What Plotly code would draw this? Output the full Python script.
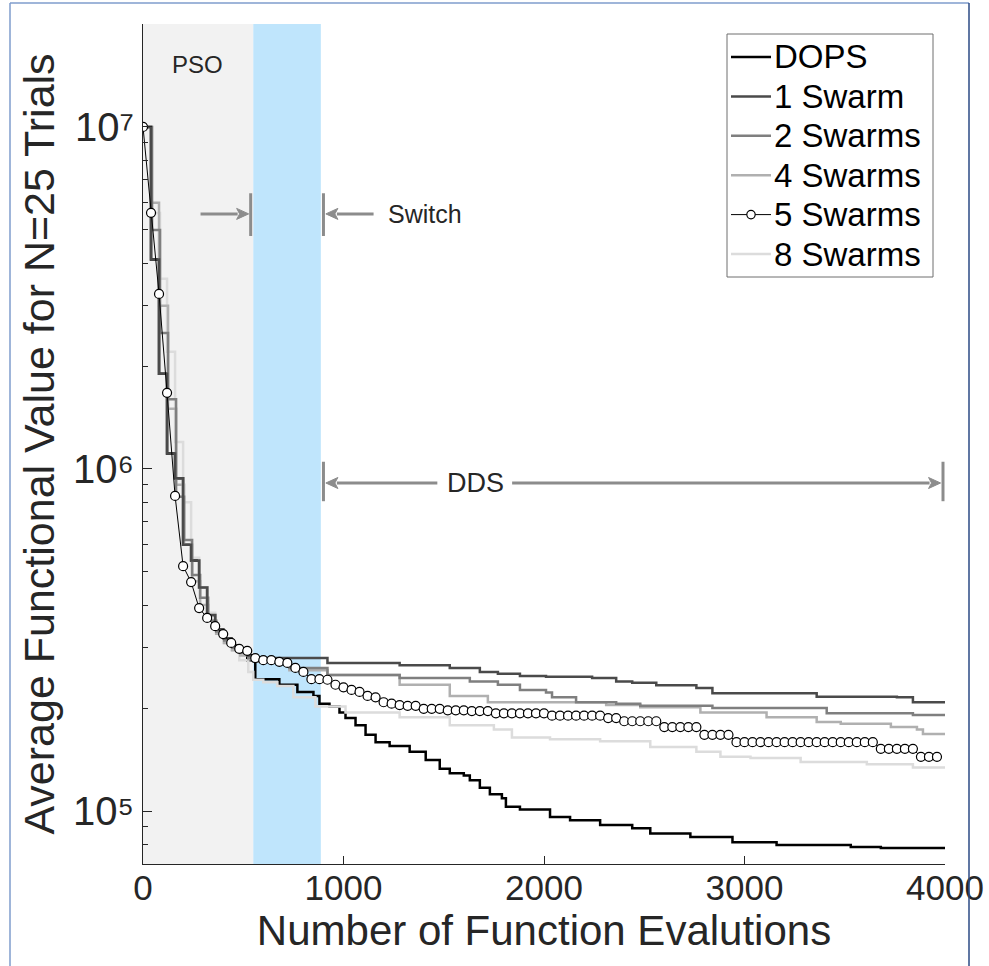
import math
import plotly.graph_objects as go

# ---------------- data ----------------
FIVE_X = list(range(0, 4000, 40))
FIVE_V = [
    1.0e7, 5.61e6, 3.25e6, 1.67e6, 8.34e5, 5.20e5, 4.67e5, 3.92e5, 3.67e5, 3.47e5,
    3.29e5, 3.10e5, 2.98e5, 2.94e5, 2.80e5, 2.76e5, 2.76e5, 2.73e5, 2.71e5, 2.62e5,
    2.55e5, 2.43e5, 2.43e5, 2.42e5, 2.34e5, 2.30e5, 2.26e5, 2.23e5, 2.17e5, 2.15e5,
    2.08e5, 2.06e5, 2.04e5, 2.03e5, 2.03e5, 1.99e5, 1.99e5, 1.99e5, 1.97e5, 1.97e5,
    1.97e5, 1.96e5, 1.96e5, 1.96e5, 1.93e5, 1.93e5, 1.93e5, 1.93e5, 1.93e5, 1.93e5,
    1.93e5, 1.90e5, 1.90e5, 1.90e5, 1.90e5, 1.90e5, 1.90e5, 1.90e5, 1.87e5, 1.87e5,
    1.83e5, 1.83e5, 1.83e5, 1.83e5, 1.83e5, 1.76e5, 1.76e5, 1.76e5, 1.76e5, 1.76e5,
    1.67e5, 1.67e5, 1.67e5, 1.67e5, 1.59e5, 1.59e5, 1.59e5, 1.59e5, 1.59e5, 1.59e5,
    1.59e5, 1.59e5, 1.59e5, 1.59e5, 1.59e5, 1.59e5, 1.59e5, 1.59e5, 1.59e5, 1.59e5,
    1.59e5, 1.59e5, 1.52e5, 1.52e5, 1.52e5, 1.52e5, 1.52e5, 1.44e5, 1.44e5, 1.44e5,
]

DOPS_X = [0, 40, 80, 120, 160, 200, 240, 280, 320, 360, 400, 440, 480, 520, 560,
          680, 770, 850, 880, 930, 980, 1010, 1060, 1110, 1160, 1230, 1330, 1410,
          1480, 1530, 1600, 1630, 1680, 1730, 1790, 1810, 1880, 2030, 2130, 2280,
          2440, 2530, 2730, 2940, 3160, 3530, 3680, 4000]
DOPS_V = [1.0e7, 4.1e6, 1.9e6, 1.11e6, 9.4e5, 6.0e5, 5.4e5, 4.5e5, 3.74e5, 3.4e5,
          3.2e5, 3.05e5, 2.9e5, 2.76e5, 2.43e5, 2.34e5, 2.23e5, 2.17e5, 2.06e5,
          2.02e5, 1.94e5, 1.87e5, 1.78e5, 1.67e5, 1.59e5, 1.55e5, 1.49e5, 1.41e5,
          1.33e5, 1.29e5, 1.27e5, 1.23e5, 1.17e5, 1.12e5, 1.09e5, 1.03e5, 1.01e5,
          9.6e4, 9.4e4, 9.1e4, 8.9e4, 8.6e4, 8.4e4, 8.1e4, 7.96e4, 7.85e4, 7.8e4,
          7.78e4]

ONE_X = [0, 40, 80, 120, 160, 200, 240, 280, 320, 360, 400, 440, 480, 520, 550,
         920, 1280, 1530, 1680, 1770, 1880, 2010, 2240, 2360, 2440, 2560, 2760,
         2840, 3360, 3760, 3840, 4000]
ONE_V = [1.0e7, 4.1e6, 1.9e6, 1.11e6, 9.4e5, 6.0e5, 5.4e5, 4.5e5, 3.74e5, 3.4e5,
         3.2e5, 3.05e5, 2.95e5, 2.85e5, 2.80e5, 2.71e5, 2.67e5, 2.62e5, 2.55e5,
         2.52e5, 2.48e5, 2.47e5, 2.45e5, 2.39e5, 2.37e5, 2.33e5, 2.29e5, 2.21e5,
         2.16e5, 2.15e5, 2.08e5, 2.08e5]

TWO_X = [0, 45, 85, 125, 165, 205, 245, 285, 325, 365, 405, 445, 485, 525, 550,
         730, 920, 1280, 1630, 1770, 1880, 2010, 2040, 2160, 2360, 2480, 2840,
         3410, 3840, 4000]
TWO_V = [1.0e7, 5.0e6, 2.5e6, 1.6e6, 8.3e5, 6.2e5, 4.9e5, 4.2e5, 3.6e5, 3.35e5,
         3.15e5, 3.0e5, 2.9e5, 2.8e5, 2.76e5, 2.62e5, 2.50e5, 2.45e5, 2.39e5,
         2.34e5, 2.26e5, 2.22e5, 2.15e5, 2.08e5, 2.06e5, 2.03e5, 2.00e5, 1.93e5,
         1.91e5, 1.91e5]

FOUR_X = [0, 40, 80, 125, 165, 205, 245, 285, 325, 365, 405, 445, 485, 525, 550,
          730, 920, 1280, 1530, 1720, 2310, 2480, 2780, 3110, 3360, 3480, 3730,
          3860, 3890, 4000]
FOUR_V = [1.0e7, 6.0e6, 3.0e6, 1.5e6, 9.0e5, 6.0e5, 4.7e5, 4.0e5, 3.6e5, 3.3e5,
          3.1e5, 2.95e5, 2.85e5, 2.78e5, 2.73e5, 2.58e5, 2.50e5, 2.34e5, 2.17e5,
          2.08e5, 2.04e5, 2.01e5, 1.94e5, 1.88e5, 1.82e5, 1.80e5, 1.76e5, 1.73e5,
          1.68e5, 1.68e5]

EIGHT_X = [0, 45, 85, 120, 160, 200, 240, 280, 320, 360, 400, 440, 480, 525, 550,
           600, 670, 750, 860, 1010, 1280, 1530, 1750, 1840, 2030, 2280, 2530,
           2760, 2880, 3030, 3280, 3610, 3840, 4000]
EIGHT_V = [1.0e7, 5.6e6, 3.6e6, 2.2e6, 1.2e6, 8.0e5, 5.5e5, 4.5e5, 3.8e5, 3.4e5,
           3.1e5, 2.95e5, 2.76e5, 2.55e5, 2.42e5, 2.38e5, 2.32e5, 2.15e5, 2.02e5,
           1.94e5, 1.88e5, 1.78e5, 1.73e5, 1.64e5, 1.62e5, 1.60e5, 1.54e5, 1.49e5,
           1.44e5, 1.43e5, 1.39e5, 1.37e5, 1.34e5, 1.34e5]

SERIES_NAMES = ["DOPS", "1 Swarm", "2 Swarms", "4 Swarms", "5 Swarms", "8 Swarms"]
X_TICKS = [0, 1000, 2000, 3000, 4000]
Y_TICKS = [1e5, 1e6, 1e7]
Y_TICKTEXT = ["10\u2075", "10\u2076", "10\u2077"]
Y_MINOR = [8e4, 9e4, 2e5, 3e5, 4e5, 5e5, 6e5, 7e5, 8e5, 9e5,
           2e6, 3e6, 4e6, 5e6, 6e6, 7e6, 8e6, 9e6, 2e7]
X_RANGE = [0, 4000]
Y_RANGE = [7e4, 2e7]

PSO_END = 550
SWITCH_END = 887

FONT = "Liberation Sans, Arial, Helvetica, sans-serif"
TXT = "#262626"

# ---------------- styles ----------------
STYLE = {
    "DOPS": dict(color="#000000", width=2.5),
    "1 Swarm": dict(color="#4a4a4a", width=2.5),
    "2 Swarms": dict(color="#7f7f7f", width=2.5),
    "4 Swarms": dict(color="#b0b0b0", width=2.5),
    "5 Swarms": dict(color="#000000", width=1),
    "8 Swarms": dict(color="#dcdcdc", width=2.5),
}

# ---------------- figure ----------------
fig = go.Figure()

def step(x, y, name):
    fig.add_trace(go.Scatter(x=x, y=y, mode="lines", name=name, line_shape="hv",
                             line=STYLE[name], showlegend=False))

step(DOPS_X, DOPS_V, "DOPS")
step(EIGHT_X, EIGHT_V, "8 Swarms")
step(FOUR_X, FOUR_V, "4 Swarms")
step(TWO_X, TWO_V, "2 Swarms")
step(ONE_X, ONE_V, "1 Swarm")
fig.add_trace(go.Scatter(x=FIVE_X, y=FIVE_V, mode="lines+markers", name="5 Swarms",
                         line=STYLE["5 Swarms"], showlegend=False,
                         marker=dict(symbol="circle", size=9, color="white",
                                     line=dict(color="#000000", width=1.2))))

# plot-area geometry in pixels (for paper-coordinate decorations)
L, R, T, B, W, H = 143, 44, 24, 102, 989, 966
PW, PH = W - L - R, H - T - B
def xp(px):
    return (px - L) / PW
def yp(py):
    return (H - B - py) / PH

ylo, yhi = math.log10(Y_RANGE[0]), math.log10(Y_RANGE[1])
def yv(v):
    return (math.log10(v) - ylo) / (yhi - ylo)

shapes = [
    dict(type="rect", xref="x", yref="paper", x0=0, x1=PSO_END, y0=0, y1=1,
         fillcolor="#f2f2f2", line=dict(width=0), layer="below"),
    dict(type="rect", xref="x", yref="paper", x0=PSO_END, x1=SWITCH_END, y0=0, y1=1,
         fillcolor="#bfe5fc", line=dict(width=0), layer="below"),
]
GRAY = "#8c8c8c"
for xb, v0, v1 in [(537, 4.8e6, 6.4e6), (900, 4.8e6, 6.4e6),
                   (900, 8.05e5, 1.05e6), (3990, 8.05e5, 1.05e6)]:
    shapes.append(dict(type="line", xref="x", yref="paper", x0=xb, x1=xb,
                       y0=yv(v0), y1=yv(v1), line=dict(color=GRAY, width=3)))

HEAD_DX = 60          # arrow head length in evaluations (~12 px)
HEAD_DY = 5.5 / PH    # half head height in paper units

def arrow(xh, xt, v):
    y = yv(v)
    d = 1 if xh > xt else -1
    xb = xh - d * HEAD_DX
    shapes.append(dict(type="line", xref="x", yref="paper", x0=xt, x1=xb + d * 5,
                       y0=y, y1=y, line=dict(color=GRAY, width=3)))
    shapes.append(dict(type="path", xref="x", yref="paper",
                       path=f"M {xh},{y} L {xb},{y + HEAD_DY} L {xb + d * 15},{y} "
                            f"L {xb},{y - HEAD_DY} Z",
                       fillcolor=GRAY, line=dict(color=GRAY, width=1)))

arrow(527, 287, 5.57e6)
arrow(912, 1150, 5.57e6)
arrow(912, 1468, 9.1e5)
arrow(3978, 1841, 9.1e5)

# outer frame of the figure image
shapes += [
    dict(type="line", xref="paper", yref="paper", x0=xp(10), x1=xp(10), y0=yp(1000), y1=yp(3),
         line=dict(color="#7f9ccc", width=1.5)),
    dict(type="line", xref="paper", yref="paper", x0=xp(10), x1=xp(969), y0=yp(3), y1=yp(3),
         line=dict(color="#7f9ccc", width=1.5)),
    dict(type="line", xref="paper", yref="paper", x0=xp(969), x1=xp(969), y0=yp(1000), y1=yp(3),
         line=dict(color="#2b4a85", width=1.5)),
]

annotations = [
    dict(x=272, y=math.log10(1.52e7), xref="x", yref="y", text="PSO", showarrow=False,
         font=dict(size=24, color=TXT, family=FONT)),
    dict(x=1210, y=math.log10(5.57e6), xref="x", yref="y", text="Switch", showarrow=False,
         xanchor="left", font=dict(size=25, color=TXT, family=FONT)),
    dict(x=1657, y=math.log10(9.1e5), xref="x", yref="y", text="DDS", showarrow=False,
         font=dict(size=27, color=TXT, family=FONT)),
]

# ---------------- legend (drawn box with fixed row spacing) ----------------
LEG_LEFT, LEG_RIGHT, LEG_TOP, LEG_BOTTOM = 727, 933, 34, 277
ROW0, ROW_STEP = 57, 39.4
shapes.append(dict(type="rect", xref="paper", yref="paper",
                   x0=xp(LEG_LEFT), x1=xp(LEG_RIGHT), y0=yp(LEG_BOTTOM), y1=yp(LEG_TOP),
                   fillcolor="white", line=dict(color="#6e6e6e", width=1), layer="above"))
for k, name in enumerate(SERIES_NAMES):
    ry = yp(ROW0 + k * ROW_STEP)
    st = STYLE[name]
    shapes.append(dict(type="line", xref="paper", yref="paper", x0=xp(731), x1=xp(771),
                       y0=ry, y1=ry, line=dict(color=st["color"], width=st["width"]),
                       layer="above"))
    if name == "5 Swarms":
        shapes.append(dict(type="circle", xref="paper", yref="paper",
                           xsizemode="pixel", ysizemode="pixel",
                           xanchor=xp(751), yanchor=ry, x0=-4.2, x1=4.2, y0=-4.2, y1=4.2,
                           fillcolor="white", line=dict(color="#000000", width=1.2),
                           layer="above"))
    annotations.append(dict(x=xp(772), y=ry, xref="paper", yref="paper", text=name,
                            showarrow=False, xanchor="left", yanchor="middle",
                            font=dict(size=33, color="#000000", family=FONT)))

fig.update_layout(
    width=W, height=H,
    margin=dict(l=L, r=R, t=T, b=B, autoexpand=False),
    paper_bgcolor="white", plot_bgcolor="white",
    font=dict(family=FONT, color=TXT),
    shapes=shapes, annotations=annotations,
    showlegend=False,
    xaxis=dict(range=X_RANGE, tickvals=X_TICKS, ticks="inside", ticklen=8,
               tickcolor=TXT, showline=True, linecolor=TXT, linewidth=1,
               showgrid=False, zeroline=False, automargin=False,
               ticklabelstandoff=-7,
               tickfont=dict(size=35, color=TXT, family=FONT),
               title=dict(text="Number of Function Evalutions", standoff=2,
                          font=dict(size=42, color=TXT, family=FONT))),
    yaxis=dict(type="log", range=[ylo, yhi], tickvals=Y_TICKS, ticktext=Y_TICKTEXT,
               ticks="inside", ticklen=9, tickcolor=TXT, showline=True, linecolor=TXT,
               linewidth=1, showgrid=False, zeroline=False, automargin=False,
               tickfont=dict(size=40, color=TXT, family=FONT),
               minor=dict(ticks="inside", ticklen=5, tickcolor=TXT, tickvals=Y_MINOR),
               title=dict(text="Average Functional Value for N=25 Trials", standoff=4,
                          font=dict(size=43, color=TXT, family=FONT))),
)

fig.write_html("out.html")
